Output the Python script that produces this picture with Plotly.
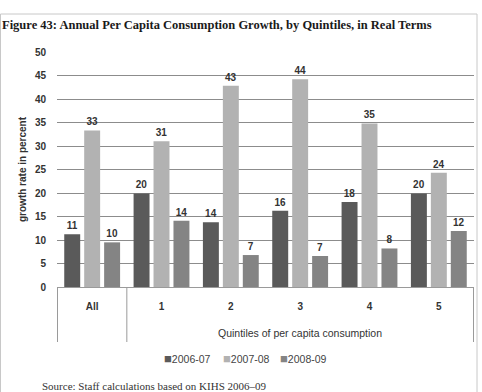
import plotly.graph_objects as go

categories = ["All", "1", "2", "3", "4", "5"]
series_names = ["2006-07", "2007-08", "2008-09"]
v_2006_07 = [11.2, 19.9, 13.8, 16.2, 18.1, 19.9]
v_2007_08 = [33.3, 31.0, 42.8, 44.2, 34.8, 24.3]
v_2008_09 = [9.5, 14.1, 6.8, 6.6, 8.2, 11.9]
labels_2006_07 = ["11", "20", "14", "16", "18", "20"]
labels_2007_08 = ["33", "31", "43", "44", "35", "24"]
labels_2008_09 = ["10", "14", "7", "7", "8", "12"]
y_ticks = [0, 5, 10, 15, 20, 25, 30, 35, 40, 45, 50]

colors = ["#5a5a5a", "#b2b2b2", "#848484"]
values = [v_2006_07, v_2007_08, v_2008_09]
labels = [labels_2006_07, labels_2007_08, labels_2008_09]

W, H = 482, 392
L, R, T, B = 57, 8, 52, 105
plot_w = W - L - R
plot_h = H - T - B

def px_x(px):
    return (px - L) / plot_w

def px_y(py):
    return (H - B - py) / plot_h

fig = go.Figure()
for name, vals, lab, col in zip(series_names, values, labels, colors):
    fig.add_trace(go.Bar(
        x=categories, y=vals, name=name, marker_color=col,
        marker_line_width=0,
        text=lab, textposition="outside", cliponaxis=False,
        textfont=dict(family="Liberation Sans", size=10, color="#333333", weight="bold"),
    ))

label_font = dict(family="Liberation Sans", size=10, color="#333333", weight="bold")

fig.update_layout(
    width=W, height=H,
    margin=dict(l=L, r=R, t=T, b=B),
    paper_bgcolor="white", plot_bgcolor="white",
    barmode="group", bargap=0.137, bargroupgap=0.2,
    showlegend=False,
    title=dict(text="Figure 43: Annual Per Capita Consumption Growth, by Quintiles, in Real Terms",
               x=2 / W, xanchor="left", xref="container",
               y=1 - 25 / H, yanchor="middle", yref="container",
               font=dict(family="Liberation Serif", size=12.5, color="#1a1a1a", weight="bold")),
    xaxis=dict(type="category", showgrid=False, showline=True, linecolor="#9a9a9a", linewidth=1,
               ticks="", tickfont=label_font, ticklabelstandoff=10, zeroline=False),
    yaxis=dict(range=[0, 50], tickvals=y_ticks, showgrid=True, gridcolor="#8c8c8c", gridwidth=1.3,
               zeroline=False, showline=False, ticks="outside", ticklen=8, tickcolor="rgba(0,0,0,0)",
               tickfont=label_font,
               title=dict(text="growth rate in percent", standoff=6,
                          font=dict(family="Liberation Sans", size=10, color="#333333", weight="bold"))),
)

# divider lines of the category box
for xb in [-0.5, 0.5, 5.5]:
    fig.add_shape(type="line", xref="x", yref="paper", x0=xb, x1=xb,
                  y0=0, y1=px_y(342), line=dict(color="#9a9a9a", width=1))

# group label
fig.add_annotation(text="Quintiles of per capita consumption", xref="x", yref="paper",
                   x=3, y=px_y(333), showarrow=False, yanchor="middle",
                   font=dict(family="Liberation Sans", size=10.5, color="#333333"))

# legend (compact, as in the reference)
legend_x = [162, 221, 278]
for name, col, lx in zip(series_names, colors, legend_x):
    fig.add_annotation(text=f"<span style='color:{col};font-size:13px'>■</span>{name}",
                       xref="paper", yref="paper", x=px_x(lx), y=px_y(358),
                       xanchor="left", yanchor="middle", showarrow=False,
                       font=dict(family="Liberation Sans", size=10.5, color="#444444"))

# outer frame
fig.add_shape(type="rect", xref="paper", yref="paper", x0=px_x(0.5), x1=px_x(477),
              y0=px_y(400), y1=px_y(14), line=dict(color="#c8c8c8", width=1), layer="below")

# source note
fig.add_annotation(text="Source: Staff calculations based on KIHS 2006–09", xref="paper", yref="paper",
                   x=px_x(40), y=px_y(386), xanchor="left", yanchor="middle", showarrow=False,
                   font=dict(family="Liberation Serif", size=11, color="#333333"))

fig.write_html("out.html")
